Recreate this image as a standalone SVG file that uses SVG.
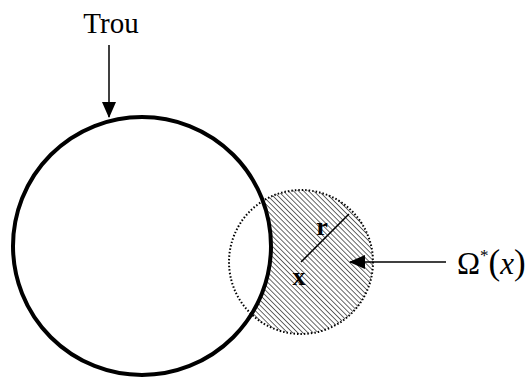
<svg xmlns="http://www.w3.org/2000/svg" width="531" height="381" viewBox="0 0 531 381">
<style>
.t{font-family:"Liberation Serif","Times New Roman",serif;fill:#000}
.ln{stroke:#000;stroke-width:1.5;fill:none}
</style>
<defs>
<pattern id="hatch" patternUnits="userSpaceOnUse" width="3.6" height="3.6" patternTransform="rotate(-45)">
<rect width="3.6" height="3.6" fill="#fff"/>
<line x1="0" y1="0" x2="0" y2="3.6" stroke="#444" stroke-width="1.6"/>
</pattern>
<marker id="ah" markerWidth="16" markerHeight="14" refX="15" refY="7" orient="auto" markerUnits="userSpaceOnUse">
<path d="M0,0 L16,7 L0,14 Z" fill="#000"/>
</marker>
</defs>
<rect width="531" height="381" fill="#fff"/>
<g id="omega-region">
<circle cx="301" cy="262" r="72" fill="url(#hatch)"/>
</g>
<g id="trou-circle">
<circle cx="142" cy="246" r="129" fill="#fff" stroke="#000" stroke-width="4"/>
</g>
<g id="omega-outline">
<circle cx="301" cy="262" r="72" fill="none" stroke="#000" stroke-width="2" stroke-dasharray="1.5 2"/>
</g>
<g id="connectors">
<line class="ln" x1="109" y1="45" x2="109" y2="117" marker-end="url(#ah)"/>
<line class="ln" x1="446" y1="262" x2="350" y2="262" marker-end="url(#ah)"/>
<line class="ln" x1="301" y1="262" x2="349" y2="214" stroke-width="2"/>
</g>
<g id="labels">
<text class="t" x="111" y="33" font-size="29" text-anchor="middle">Trou</text>
<text class="t" x="322" y="235" font-size="26" font-weight="bold" text-anchor="middle">r</text>
<text class="t" x="299" y="285" font-size="26" font-weight="bold" text-anchor="middle">x</text>
<text class="t" x="457" y="274" font-size="31">Ω<tspan font-size="17" dy="-13">*</tspan><tspan dy="13" font-size="35">(</tspan><tspan font-style="italic" font-size="31">x</tspan><tspan font-size="35">)</tspan></text>
</g>
</svg>
